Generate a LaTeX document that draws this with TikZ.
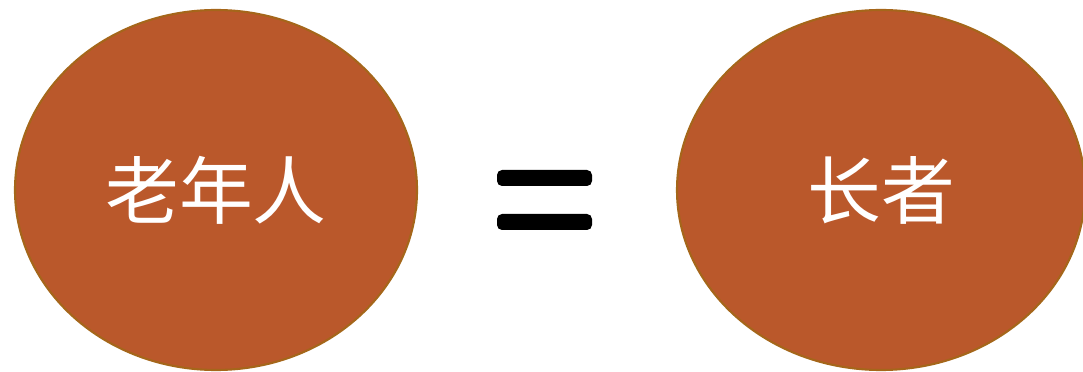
\documentclass[tikz,border=0pt]{standalone}
\usepackage{fontspec}
\newfontfamily\cjk{Noto Sans CJK SC}
\usepackage{xcolor}
\usepackage{tikz}
\usetikzlibrary{shapes.geometric}
\definecolor{rust}{HTML}{BA582B}
\definecolor{rustedge}{HTML}{A5661A}
\tikzset{
  blob/.style={ellipse, fill=rust, draw=rustedge, line width=1.2pt, inner sep=0pt,
    minimum width=8.04cm, minimum height=7.2cm, text=white,
    font=\cjk\fontsize{42}{42}\selectfont},
  bar/.style={fill=black, rounded corners=0.1cm}
}

\begin{document}
\begin{tikzpicture}
\useasboundingbox (0,0) rectangle (21.66,7.42);
\node at (4.32,3.62) (old)[blob]{老年人};
\node at (17.62,3.62) (elder)[blob, minimum width=8.16cm]{长者};
\fill[bar] (9.94,3.70) rectangle (11.84,4.02);
\fill[bar] (9.94,2.82) rectangle (11.84,3.14);
\end{tikzpicture}
\end{document}
